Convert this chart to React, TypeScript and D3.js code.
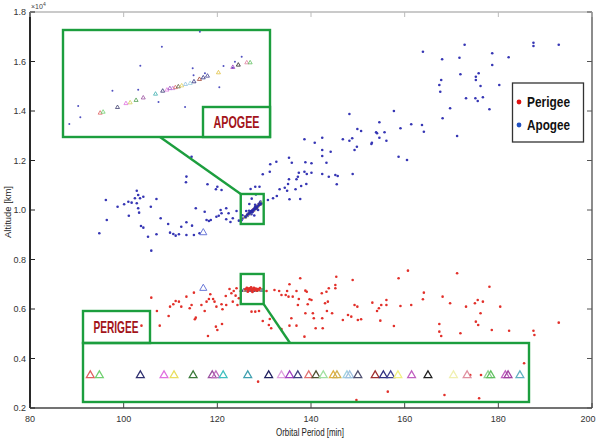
import React from 'react';
import * as d3 from 'd3';

const W = 597;
const H = 443;

// [orbital period (min), altitude (km)]
const apogeePoints = [
  [114.5, 12150], [113.4, 11350], [113.3, 11120], [96.2, 10405], [102.8, 10780], [103.1, 10607], [102.4, 10473],
  [103.5, 10473], [104.2, 10538], [101.7, 10296], [101.0, 10336], [100.1, 10231], [98.7, 10134], [102.8, 10272],
  [103.1, 10070], [103.3, 9892], [101.1, 9770], [107.0, 10445], [105.8, 10134], [96.4, 9597], [94.8, 9060],
  [103.7, 9354], [104.2, 9286], [105.2, 8922], [107.0, 9019], [105.9, 8357], [107.9, 9666], [109.5, 9435],
  [109.9, 9084], [110.6, 9031], [111.1, 8963], [111.8, 9019], [112.3, 9326], [113.4, 9504], [113.4, 8991],
  [114.6, 9367], [115.0, 8991], [115.4, 10070], [117.3, 9932], [116.2, 9060], [117.7, 9597], [118.2, 9556],
  [118.6, 9597], [117.9, 11039], [119.7, 10837], [120.0, 10942], [120.9, 10809], [119.8, 9730], [120.3, 9770],
  [120.7, 10001], [120.9, 9867], [121.9, 10070], [121.9, 9625], [122.4, 9867], [122.8, 9516], [123.3, 9666],
  [124.1, 9960], [124.6, 9569], [127.1, 10849], [128.1, 10942], [129.0, 10942], [129.7, 11443],
  [148.2, 13879], [157.7, 14000], [154.6, 13544], [159.1, 13302], [161.4, 13463], [163.7, 13435], [164.1, 13164],
  [149.9, 13273], [150.7, 13192], [154.1, 13099], [153.9, 13140], [155.7, 13140], [154.6, 12922], [156.1, 12801],
  [153.0, 12720], [152.9, 12667], [148.8, 12897], [148.2, 12801], [146.8, 12857], [149.8, 12558], [149.3, 12425],
  [142.4, 12922], [140.8, 12720], [138.6, 12857], [144.2, 12356], [142.4, 12425], [142.4, 12182], [143.3, 11912],
  [158.7, 12154], [160.5, 12021], [135.3, 12114], [135.9, 11912], [132.6, 11952], [131.3, 11847], [138.8, 11928],
  [140.1, 11888], [137.4, 11508], [138.6, 11548], [139.1, 11455], [140.1, 11508], [142.4, 11455], [143.8, 11346],
  [145.2, 11415], [145.7, 11374], [148.9, 11455], [137.2, 11346], [136.9, 11241], [131.2, 11548], [135.3, 11241],
  [137.9, 10970], [139.0, 11051], [145.5, 11039], [136.7, 10837], [135.1, 11051], [134.9, 10780], [134.4, 10902],
  [133.3, 10837], [132.7, 10566], [131.9, 10473], [130.8, 10405], [135.4, 10433], [137.7, 10445],
  [163.9, 16396], [172.8, 16679], [187.5, 16760], [187.5, 16626], [192.9, 16679], [168.0, 16089], [171.7, 16154],
  [178.7, 16331], [182.2, 16170], [178.7, 15859], [171.9, 15483], [175.8, 15523], [175.2, 15386], [175.2, 15253],
  [176.2, 15010], [167.8, 15253], [167.4, 15051], [167.6, 14780], [180.2, 15051], [173.1, 14513], [175.1, 14513],
  [175.6, 14404], [176.7, 14554], [178.1, 14069], [169.7, 14109], [168.1, 13705], [171.2, 12990],
];

// dense blue cluster inside the small apogee box
const apogeeCluster = [
  [126.0, 9720], [126.4, 9800], [126.7, 9850], [127.0, 9900], [127.2, 9940], [127.4, 9960], [127.7, 10000],
  [127.9, 10030], [128.1, 10060], [128.3, 10100], [128.5, 10130], [128.8, 10180], [129.0, 10220], [129.3, 10260],
  [127.5, 9920], [128.0, 10080],
];

// blue dots visible in the apogee zoom
const apogeeZoomDots = [
  [125.15, 9582], [125.41, 9658], [125.36, 9786], [126.17, 9958], [126.83, 10242], [127.34, 10458], [126.78, 9971],
  [127.26, 9832], [127.89, 9775], [128.07, 10213], [128.09, 10134], [128.36, 10157], [128.7, 9998], [128.8, 10239],
  [129.02, 10220], [129.07, 10288], [129.23, 10345], [128.24, 10628],
];

const perigeePoints = [
  [105.9, 6458], [107.1, 5920], [109.6, 5718], [107.7, 5327], [103.8, 5327], [109.9, 6094], [110.6, 6191],
  [111.1, 6324], [111.8, 6296], [112.3, 6094], [113.4, 6498], [114.5, 6163], [114.1, 6030], [115.4, 5650],
  [115.2, 5585], [115.0, 6660], [116.6, 6163], [117.7, 6296], [118.2, 6405], [118.5, 6595], [119.1, 6405],
  [119.4, 6296], [117.3, 5920], [118.0, 4910], [119.7, 5286], [120.0, 5153], [121.0, 5395], [119.8, 6094],
  [120.9, 6191], [121.1, 5989], [121.9, 6163], [121.8, 6526], [122.6, 6809], [123.0, 6635], [123.5, 6728],
  [124.1, 6837], [123.9, 6539], [123.3, 6296], [124.3, 6163], [124.6, 6433], [127.3, 5892], [128.1, 5892],
  [128.9, 5920], [129.7, 5516], [131.2, 5597], [131.0, 5355], [131.5, 5222], [130.5, 6728], [132.2, 6769],
  [133.2, 6728], [133.7, 6567], [134.6, 6567], [134.9, 6728], [135.2, 6498], [135.4, 7000], [136.1, 6498],
  [136.9, 6728], [137.2, 6163], [137.4, 6405], [137.7, 7241], [138.8, 6741], [139.1, 6700], [139.3, 6191],
  [139.7, 6393], [140.1, 6365], [138.8, 5828], [140.4, 5828], [140.6, 5626], [142.4, 5626], [135.8, 5626],
  [136.9, 5327], [135.4, 5327], [133.7, 5193], [138.6, 4882], [141.0, 5221], [142.5, 5221], [143.8, 6837],
  [145.2, 6837], [145.4, 7306], [143.6, 6296], [143.4, 5920], [144.5, 5828], [145.2, 6971], [143.3, 6700],
  [142.3, 6635], [148.9, 7173], [143.0, 6232], [146.8, 5557], [147.9, 5759], [148.6, 5690], [150.0, 5557],
  [150.7, 5585], [149.3, 6163], [149.9, 6094], [153.1, 6256], [154.1, 5920], [154.5, 6030], [154.8, 5529],
  [155.0, 6163], [156.1, 6365], [156.1, 6163], [157.7, 5314], [158.7, 7241], [160.7, 7549], [159.1, 6122],
  [161.4, 6163], [164.1, 6660], [163.9, 6393], [168.1, 6498], [169.7, 6232], [171.2, 7444], [173.1, 6094],
  [175.0, 6232], [175.6, 6365], [176.7, 6296], [176.2, 5828], [175.2, 5488], [175.7, 5355], [178.1, 6902],
  [180.4, 6094], [178.6, 5153], [182.3, 5124], [187.5, 5124], [187.7, 4951], [192.9, 5448], [167.4, 5395],
  [167.4, 5084], [167.8, 4910], [171.9, 5020], [128.7, 3064], [185.5, 3807], [149.7, 2325], [156.4, 2661],
  [168.5, 2527], [175.9, 2393], [174.0, 3335], [176.3, 3335],
];

const perigeeCluster = [
  [126.0, 6800], [126.3, 6850], [126.6, 6760], [126.8, 6830], [127.0, 6790], [127.2, 6870], [127.4, 6740],
  [127.6, 6810], [127.8, 6850], [128.0, 6770], [128.2, 6820], [128.4, 6740], [128.6, 6800], [128.9, 6780],
  [129.1, 6840], [126.5, 6700], [127.5, 6690],
];

// stray triangles in main plot (period, altitude)
const mainTriangles = [[117.0, 9084], [117.0, 6836]];

// satellites shown as triangles in the zooms
const apogeeTriPeriod = [125.88, 125.95, 126.29, 126.49, 126.59, 126.73, 126.9, 127.19, 127.36, 127.46, 127.53, 127.6,
  127.66, 127.73, 127.81, 127.9, 128.01, 128.1, 128.23, 128.32, 128.42, 128.68, 129.02, 129.15, 129.35, 129.43];
const apogeeTriAlt = [9707, 9718, 9771, 9815, 9824, 9851, 9879, 9922, 9956, 9968, 9985, 9985, 9996, 10005, 10016,
  10032, 10043, 10062, 10089, 10107, 10126, 10164, 10225, 10251, 10277, 10277];
const apogeeTriColor = ['#e06060', '#70d070', '#404070', '#e070e0', '#d0d060', '#50a050', '#9a50a0', '#40b0b0',
  '#303070', '#e080e0', '#a050c0', '#c080e0', '#e07070', '#606040', '#e0d060', '#90c0e0', '#a0d0e0', '#303080',
  '#a04030', '#303080', '#404090', '#e0c040', '#a040c0', '#202020', '#e080a0', '#60c060'];

const perigeeTriPeriod = [125.08, 125.18, 125.63, 125.89, 126.0, 126.21, 126.42, 126.46, 126.54, 126.81, 127.04,
  127.18, 127.27, 127.36, 127.48, 127.56, 127.64, 127.75, 127.79, 127.9, 127.93, 128.02, 128.21, 128.3, 128.38,
  128.46, 128.61, 128.79, 129.07, 129.22, 129.45, 129.48, 129.64, 129.67, 129.8];
const perigeeTriAlt = 6750;
const perigeeTriColor = ['#e06060', '#70d070', '#303070', '#e070e0', '#e8e060', '#3a7a3a', '#9a50a0', '#c070c0',
  '#40c0c0', '#40a0b0', '#202060', '#e0a0e0', '#a040c0', '#404080', '#e07070', '#505030', '#a0e0a0', '#e0b040',
  '#d0b050', '#a0d0e0', '#a0c0e0', '#505070', '#a03030', '#303080', '#404090', '#f0f080', '#c060c0', '#202020',
  '#f0f0b0', '#e090a0', '#90d090', '#60c060', '#c060c0', '#a040a0', '#60b0c0'];

const xTicks = [80, 100, 120, 140, 160, 180, 200];
const yTicks = [2000, 4000, 6000, 8000, 10000, 12000, 14000, 16000, 18000];

const periodWindow = [125, 129.9];
const apogeeWindow = [9435, 10647];
const perigeeWindow = [6200, 7415];

const RED = '#e2302a';
const BLUE = '#3636b4';
const GREEN = '#1c9e3e';
const DARKRED = '#a3141a';

export default function App() {
  const x = d3.scaleLinear().domain([80, 200]).range([30, 592]);
  const y = d3.scaleLinear().domain([2000, 18000]).range([408, 12]);

  // zoom panels
  const aBox = { x0: 63, x1: 270, y0: 30, y1: 137 };
  const pBox = { x0: 83, x1: 529, y0: 343, y1: 402 };
  const ax = d3.scaleLinear().domain(periodWindow).range([aBox.x0, aBox.x1]);
  const ay = d3.scaleLinear().domain(apogeeWindow).range([aBox.y1, aBox.y0]);
  const px = d3.scaleLinear().domain(periodWindow).range([pBox.x0, pBox.x1]);
  const py = d3.scaleLinear().domain(perigeeWindow).range([pBox.y1, pBox.y0]);

  const tri = (s: number) => d3.symbol().type(d3.symbolTriangle).size(s)() as string;
  const font = 'Liberation Sans, Arial, sans-serif';

  const sa = { x0: x(periodWindow[0]), x1: x(periodWindow[1]), y0: y(apogeeWindow[1]), y1: y(apogeeWindow[0]) };
  const sp = { x0: x(periodWindow[0]), x1: x(periodWindow[1]), y0: y(perigeeWindow[1]), y1: y(perigeeWindow[0]) };

  return (
    <div style={{ position: 'absolute', left: 0, top: 0 }}>
      <svg width={W} height={H} style={{ display: 'block', background: '#fff' }}>
        {/* frame */}
        <line x1={30} x2={592} y1={12} y2={12} stroke="#b8b8b8" strokeWidth={1.5} />
        <line x1={592} x2={592} y1={12} y2={408} stroke="#666" strokeWidth={1.5} />
        <line x1={30} x2={592} y1={408} y2={408} stroke="#444" strokeWidth={1.6} />
        <line x1={30} x2={30} y1={12} y2={408} stroke="#111" strokeWidth={1.8} />

        {yTicks.map(t => (
          <g key={'y' + t}>
            <line x1={30} x2={35} y1={y(t)} y2={y(t)} stroke="#222" />
            <line x1={587} x2={592} y1={y(t)} y2={y(t)} stroke="#555" />
            <text x={26} y={y(t) + 3} textAnchor="end" fontSize={9} fontFamily={font} fill="#333">
              {(t / 10000).toFixed(1)}
            </text>
          </g>
        ))}
        {xTicks.map(t => (
          <g key={'x' + t}>
            <line x1={x(t)} x2={x(t)} y1={408} y2={403} stroke="#444" />
            <line x1={x(t)} x2={x(t)} y1={12} y2={17} stroke="#bbb" />
            <text x={Math.min(x(t), W - 9)} y={422} textAnchor="middle" fontSize={9} fontFamily={font} fill="#333">
              {t}
            </text>
          </g>
        ))}
        <text x={31} y={9} fontSize={7} fontFamily={font} fill="#444">
          ×10<tspan dy={-3} fontSize={5}>4</tspan>
        </text>
        <text x={310} y={436} textAnchor="middle" fontSize={10} fontFamily={font} fill="#222"
          textLength={68} lengthAdjust="spacingAndGlyphs">Orbital Period [min]</text>
        <text transform="translate(11,212) rotate(-90)" textAnchor="middle" fontSize={9.5} fontFamily={font}
          fill="#222" textLength={52} lengthAdjust="spacingAndGlyphs">Altitude [km]</text>

        {/* main scatter */}
        {apogeePoints.concat(apogeeZoomDots).map((d, i) => (
          <circle key={'a' + i} cx={x(d[0])} cy={y(d[1])} r={1.3} fill={BLUE} />
        ))}
        {perigeePoints.map((d, i) => (
          <circle key={'p' + i} cx={x(d[0])} cy={y(d[1])} r={1.3} fill={RED} />
        ))}
        {perigeeTriPeriod.map((p, i) => (
          <path key={'pm' + i} d={tri(5)} transform={`translate(${x(p)},${y(perigeeTriAlt)})`}
            fill="none" stroke={perigeeTriColor[i]} strokeWidth={0.8} />
        ))}
        {perigeeCluster.map((d, i) => (
          <circle key={'pc' + i} cx={x(d[0])} cy={y(d[1])} r={1.4} fill={RED} />
        ))}
        {apogeeTriPeriod.map((p, i) => (
          <path key={'am' + i} d={tri(5)} transform={`translate(${x(p)},${y(apogeeTriAlt[i])})`}
            fill="none" stroke={apogeeTriColor[i]} strokeWidth={0.8} />
        ))}
        {apogeeCluster.map((d, i) => (
          <circle key={'ac' + i} cx={x(d[0])} cy={y(d[1])} r={1.4} fill="#2a2aa8" />
        ))}
        {mainTriangles.map((d, i) => (
          <path key={'mt' + i} d={tri(22)} transform={`translate(${x(d[0])},${y(d[1])})`}
            fill="none" stroke="#6a78d8" strokeWidth={1} />
        ))}

        {/* small boxes and connectors */}
        <rect x={sa.x0} y={sa.y0} width={sa.x1 - sa.x0} height={sa.y1 - sa.y0} fill="none" stroke={GREEN} strokeWidth={2.4} />
        <rect x={sp.x0} y={sp.y0} width={sp.x1 - sp.x0} height={sp.y1 - sp.y0} fill="none" stroke={GREEN} strokeWidth={2.4} />
        <line x1={160} y1={aBox.y1} x2={sa.x0} y2={sa.y0} stroke={GREEN} strokeWidth={2.4} />
        <line x1={sp.x1} y1={sp.y1} x2={290} y2={pBox.y0} stroke={GREEN} strokeWidth={2.4} />

        {/* apogee zoom */}
        <rect x={aBox.x0} y={aBox.y0} width={aBox.x1 - aBox.x0} height={aBox.y1 - aBox.y0} fill="none" stroke={GREEN} strokeWidth={2.4} />
        {apogeeZoomDots.map((d, i) => (
          <circle key={'az' + i} cx={ax(d[0])} cy={ay(d[1])} r={1} fill="#5050c0" />
        ))}
        {apogeeTriPeriod.map((p, i) => (
          <path key={'at' + i} d={tri(7)} transform={`translate(${ax(p)},${ay(apogeeTriAlt[i])})`}
            fill="none" stroke={apogeeTriColor[i]} strokeWidth={0.8} />
        ))}
        <rect x={203} y={107} width={aBox.x1 - 203} height={aBox.y1 - 107} fill="#fff" stroke={GREEN} strokeWidth={2.4} />
        <text x={236.5} y={127.5} textAnchor="middle" fontSize={16} fontWeight="bold" fontFamily={font} fill={DARKRED}
          textLength={46} lengthAdjust="spacingAndGlyphs">APOGEE</text>

        {/* perigee zoom */}
        <rect x={pBox.x0} y={pBox.y0} width={pBox.x1 - pBox.x0} height={pBox.y1 - pBox.y0} fill="none" stroke={GREEN} strokeWidth={2.4} />
        {perigeeTriPeriod.map((p, i) => (
          <path key={'pt' + i} d={tri(26)} transform={`translate(${px(p)},${py(perigeeTriAlt)})`}
            fill="none" stroke={perigeeTriColor[i]} strokeWidth={1.3} />
        ))}
        <rect x={83} y={311} width={150 - 83} height={pBox.y0 - 311} fill="none" stroke={GREEN} strokeWidth={2.4} />
        <text x={116} y={333} textAnchor="middle" fontSize={17} fontWeight="bold" fontFamily={font} fill={DARKRED}
          textLength={45} lengthAdjust="spacingAndGlyphs">PERIGEE</text>

        {/* legend */}
        <rect x={512.5} y={83} width={71} height={59} fill="#fff" stroke="#333" strokeWidth={1.3} />
        <circle cx={519} cy={102} r={2.4} fill="#e01010" />
        <circle cx={519} cy={125} r={2.4} fill="#2050c0" />
        <text x={527} y={107} fontSize={15} fontWeight="bold" fontFamily={font} fill="#111"
          textLength={43} lengthAdjust="spacingAndGlyphs">Perigee</text>
        <text x={527} y={130} fontSize={15} fontWeight="bold" fontFamily={font} fill="#111"
          textLength={43} lengthAdjust="spacingAndGlyphs">Apogee</text>
      </svg>
    </div>
  );
}
